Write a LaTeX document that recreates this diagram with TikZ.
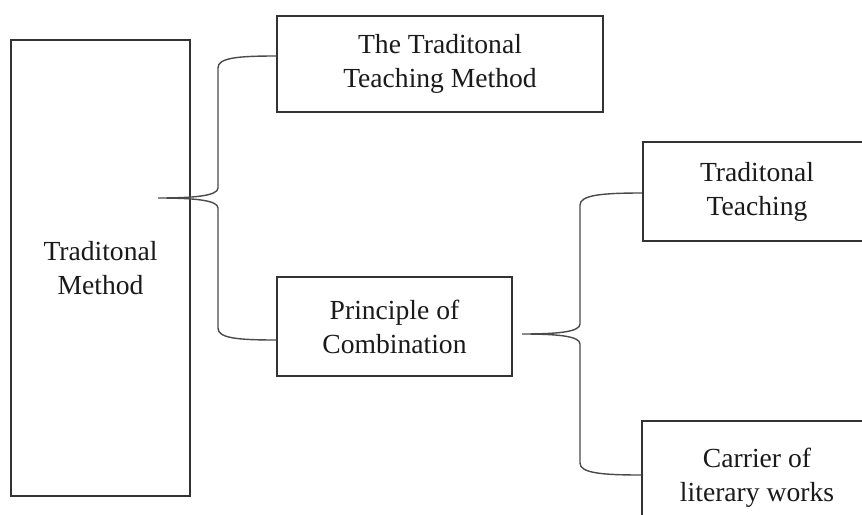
\documentclass[tikz,border=0pt]{standalone}
\usepackage{fontspec}
\setmainfont{Liberation Serif}
\usetikzlibrary{calc}
\definecolor{boxline}{HTML}{333333}
\definecolor{braceline}{HTML}{4A4A4A}
\definecolor{txt}{HTML}{1A1A1A}
\begin{document}
\begin{tikzpicture}[x=0.5pt,y=-0.5pt,
  box/.style={draw=boxline,line width=0.7pt,inner sep=0pt,align=center,text=txt,
    font=\fontsize{13.8pt}{17pt}\selectfont},
  bracepath/.style={draw=braceline,line width=0.7pt}]
\useasboundingbox (0,0) rectangle (862,514);
\clip (0,0) rectangle (862,514);
\fill[white] (0,0) rectangle (862,514);
% boxes
\node[box,minimum width=89.5pt,minimum height=228pt] (big) at (100.5,268) {Traditonal\\Method};
\node[box,minimum width=163pt,minimum height=48pt] (top) at (440,64) {The Traditonal\\Teaching Method};
\node[box,minimum width=117.5pt,minimum height=49.5pt] (prin) at (394.5,326.5) {Principle of\\Combination};
\node[box,minimum width=114pt,minimum height=49.5pt] (tt) at (757,191.5) {Traditonal\\Teaching};
\node[box,minimum width=115pt,minimum height=57pt] (car) at (757,478) {Carrier of\\literary works};
% brace 1
\coordinate (b1) at (158,198);
\coordinate (v1) at (218,0);
\coordinate (a1) at ([yshift=4pt]top.west);
\coordinate (a2) at ([yshift=-6.75pt]prin.west);
\draw[bracepath] (a1) .. controls +(-40,0) and +(0,-10) .. ($(a1 -| v1)+(0,12)$)
  -- ($(b1 -| v1)+(0,-10)$) .. controls +(0,8) and +(35,0) .. (b1)
  .. controls +(35,0) and +(0,-8) .. ($(b1 -| v1)+(0,10)$)
  -- ($(a2 -| v1)+(0,-12)$) .. controls +(0,10) and +(-40,0) .. (a2);
% brace 2
\coordinate (b2) at (522,334);
\coordinate (v2) at (580,0);
\coordinate (c1) at ([yshift=-0.75pt]tt.west);
\coordinate (c2) at ([yshift=1.5pt]car.west);
\draw[bracepath] (c1) .. controls +(-40,0) and +(0,-10) .. ($(c1 -| v2)+(0,12)$)
  -- ($(b2 -| v2)+(0,-10)$) .. controls +(0,8) and +(35,0) .. (b2)
  .. controls +(35,0) and +(0,-8) .. ($(b2 -| v2)+(0,10)$)
  -- ($(c2 -| v2)+(0,-12)$) .. controls +(0,10) and +(-40,0) .. (c2);
\end{tikzpicture}
\end{document}
